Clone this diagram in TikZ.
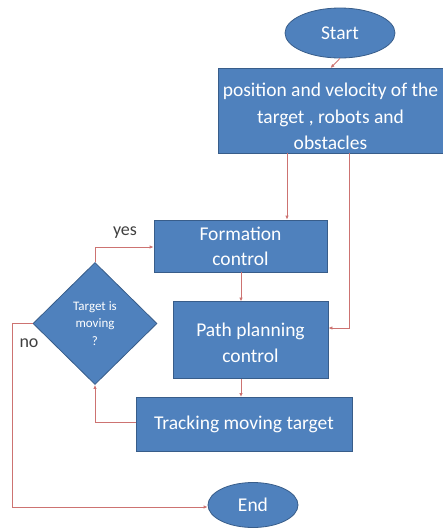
\documentclass[tikz,border=0pt]{standalone}
\usepackage{fontspec}
\setmainfont{Carlito}
\usetikzlibrary{shapes.geometric,arrows.meta}
\definecolor{boxblue}{HTML}{4F81BD}
\definecolor{boxedge}{HTML}{385D8A}
\definecolor{linered}{HTML}{C0504D}
\definecolor{labelgray}{HTML}{404040}
\tikzset{
  blk/.style={draw=boxedge, fill=boxblue, text=white, line width=0.8pt, inner sep=0pt, align=center},
  txt/.style={text=white, inner sep=0pt, align=center},
  oval/.style={ellipse, draw=boxedge, fill=boxblue, text=white, line width=0.8pt, inner sep=0pt},
  dec/.style={diamond, draw=boxedge, fill=boxblue, text=white, line width=0.8pt, inner sep=0pt, align=center},
  conn/.style={draw=linered!80, line width=0.8pt, -{Latex[length=4pt,width=3.5pt]}},
  lbl/.style={text=labelgray, font=\fontsize{18}{20}\selectfont}
}
\begin{document}
\begin{tikzpicture}[x=1pt,y=-1pt]
\useasboundingbox (0,0) rectangle (443,531);
\node[oval, minimum width=110pt, minimum height=50pt, font=\fontsize{19.5}{22}\selectfont] (start) at (340,33) {Start};
\node[blk, minimum width=225pt, minimum height=85pt] (pos) at (330.5,111) {};
\node[txt, font=\fontsize{19.5}{26.5}\selectfont] (postext) at (330.5,116.5) {position and velocity of the\\target , robots and\\obstacles};
\node[blk, minimum width=173pt, minimum height=52pt, font=\fontsize{19.5}{25}\selectfont] (form) at (240.5,246) {Formation\\control};
\node[blk, minimum width=155pt, minimum height=77pt] (path) at (250.5,340) {};
\node[txt, font=\fontsize{19.5}{26}\selectfont] (pathtext) at (250.5,343) {Path planning\\control};
\node[blk, minimum width=216pt, minimum height=54pt, font=\fontsize{19.5}{22}\selectfont] (track) at (244,424) {Tracking moving target};
\node[dec, minimum width=124pt, minimum height=122pt, font=\fontsize{13}{17.5}\selectfont] (dm) at (95,323.5) {Target is\\moving\\?};
\node[oval, minimum width=90pt, minimum height=45pt, font=\fontsize{19.5}{22}\selectfont] (end) at (253,505) {End};
\coordinate (yescorner) at (95,247);
\coordinate (nocorner) at (12,323.5);
\coordinate (nobottom) at (12,507);
\coordinate (trackcorner) at (95,422);
\coordinate (leftdrop) at (287,153);
\coordinate (rightdrop) at (349,153);
\coordinate (rightturn) at (349,328);
\draw[conn] (start.south) -- (pos.north);
\draw[conn] (leftdrop) -- (leftdrop |- form.north);
\draw[conn] (rightdrop) -- (rightturn) -- (rightturn -| path.east);
\draw[conn] (form.south -| 241,0) -- (241,301.5);
\draw[conn] (241,378.5) -- (241,397);
\draw[conn] (dm.north) -- (yescorner) -- (yescorner -| form.west);
\draw[conn] (dm.west) -- (nocorner) -- (nobottom) -- (nobottom -| end.west);
\draw[conn] (track.west |- trackcorner) -- (trackcorner) -- (dm.south);
\node[lbl] (yes) at (125,233) {yes};
\node[lbl] (no) at (29,343) {no};
\end{tikzpicture}
\end{document}
